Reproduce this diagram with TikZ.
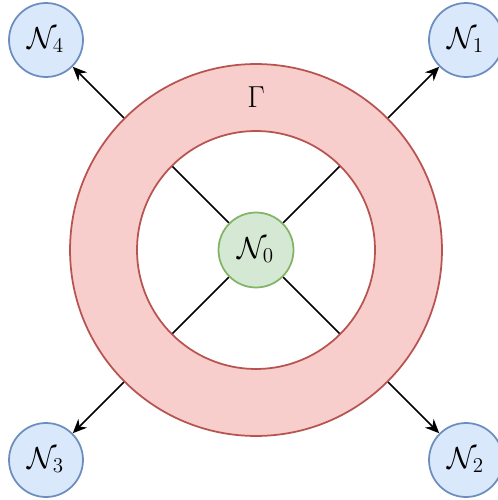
\documentclass[tikz,border=0pt]{standalone}
\usepackage{amsmath,amssymb}
\usetikzlibrary{arrows.meta,positioning}
\definecolor{bluepale}{HTML}{DAE8FC}
\definecolor{blueline}{HTML}{6C8EBF}
\definecolor{greenpale}{HTML}{D5E8D4}
\definecolor{greenline}{HTML}{82B366}
\definecolor{redpale}{HTML}{F8CECC}
\definecolor{redline}{HTML}{B85450}

\begin{document}
\begin{tikzpicture}[x=0.02cm,y=-0.02cm,>={Stealth[length=8pt,width=7pt]},every node/.style={font=\LARGE,align=center},
  outer/.style={circle,draw=blueline,fill=bluepale,line width=1pt,minimum size=1.48cm,inner sep=0pt}]
  \useasboundingbox (0,0) rectangle (497,500);
  \node[circle,draw=greenline,fill=greenpale,line width=1pt,minimum size=1.5cm,inner sep=0pt] (n0) at (256,250) {$\mathcal{N}_0$};
  \node[outer] (n1) at (466,40) {$\mathcal{N}_1$};
  \node[outer] (n2) at (466,460) {$\mathcal{N}_2$};
  \node[outer] (n3) at (46,460) {$\mathcal{N}_3$};
  \node[outer] (n4) at (46,40) {$\mathcal{N}_4$};
  \draw[->,line width=0.9pt] (n0) -- (n1);
  \draw[->,line width=0.9pt] (n0) -- (n2);
  \draw[->,line width=0.9pt] (n0) -- (n3);
  \draw[->,line width=0.9pt] (n0) -- (n4);
  % ring on top of the lines
  \filldraw[draw=redline,fill=redpale,line width=1pt,even odd rule] (256,250) circle[radius=3.72cm] (256,250) circle[radius=2.38cm];
  \node (gamma) at (256,97) {$\Gamma$};
\end{tikzpicture}
\end{document}
